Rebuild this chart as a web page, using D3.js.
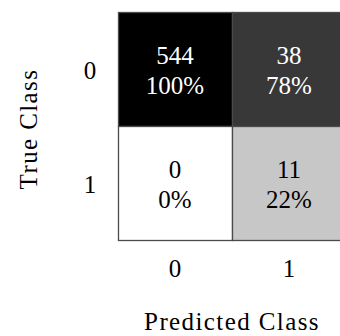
<!DOCTYPE html>
<html>
<head>
<meta charset="utf-8">
<script src="https://cdn.jsdelivr.net/npm/d3@7"></script>
<style>
  html, body { margin: 0; padding: 0; background: #fff; }
  svg { display: block; }
  text { font-family: "Liberation Serif", "DejaVu Serif", serif; fill: #000; }
</style>
</head>
<body>
<svg id="chart" width="340" height="336"></svg>
<script>
// Confusion matrix: rows = true class, columns = predicted class
const classes = ["0", "1"];
const counts = [
  [544, 38],
  [0, 11]
];
// Share of each column (predicted class) that falls in each row
const percents = [
  [100, 78],
  [0, 22]
];

const svg = d3.select("#chart");
const gridLeft = 118, gridTop = 12, gridSize = 228;
const fs = 25;

const x = d3.scaleBand().domain(classes).range([gridLeft, gridLeft + gridSize]);
const y = d3.scaleBand().domain(classes).range([gridTop, gridTop + gridSize]);
const shade = d3.scaleLinear().domain([0, 100]).range(["#ffffff", "#000000"]);

const cells = [];
classes.forEach((t, i) => classes.forEach((p, j) => {
  cells.push({ t, p, n: counts[i][j], pct: percents[i][j] });
}));

const g = svg.append("g");
g.selectAll("rect").data(cells).join("rect")
  .attr("x", d => x(d.p) + 0.5)
  .attr("y", d => y(d.t) + 0.5)
  .attr("width", x.bandwidth())
  .attr("height", y.bandwidth())
  .attr("fill", d => shade(d.pct))
  .attr("stroke", "#4a4a4a")
  .attr("stroke-width", 1.3);

const labels = g.selectAll("g.lbl").data(cells).join("g").attr("class", "lbl")
  .attr("transform", d => `translate(${x(d.p) + x.bandwidth() / 2},${y(d.t) + y.bandwidth() / 2})`);
labels.append("text")
  .attr("text-anchor", "middle")
  .attr("y", -5)
  .style("font-size", fs + "px")
  .style("fill", d => d.pct > 50 ? "#fff" : "#000")
  .text(d => d.n);
labels.append("text")
  .attr("text-anchor", "middle")
  .attr("y", 25)
  .style("font-size", fs + "px")
  .style("fill", d => d.pct > 50 ? "#fff" : "#000")
  .text(d => d.pct + "%");

// Tick labels along the bottom (predicted) and left (true)
svg.append("g").selectAll("text").data(classes).join("text")
  .attr("x", d => x(d) + x.bandwidth() / 2)
  .attr("y", 277)
  .attr("text-anchor", "middle")
  .style("font-size", fs + "px")
  .text(d => d);

svg.append("g").selectAll("text").data(classes).join("text")
  .attr("x", 90)
  .attr("y", d => y(d) + y.bandwidth() / 2 + 9.5)
  .attr("text-anchor", "middle")
  .style("font-size", fs + "px")
  .text(d => d);

// Axis titles
svg.append("text")
  .attr("x", 232)
  .attr("y", 330)
  .attr("text-anchor", "middle")
  .style("font-size", fs + "px")
  .style("letter-spacing", "1.4px")
  .text("Predicted Class");

svg.append("text")
  .attr("transform", "translate(37,129) rotate(-90)")
  .attr("text-anchor", "middle")
  .style("font-size", fs + "px")
  .style("letter-spacing", "1.4px")
  .text("True Class");
</script>
</body>
</html>
